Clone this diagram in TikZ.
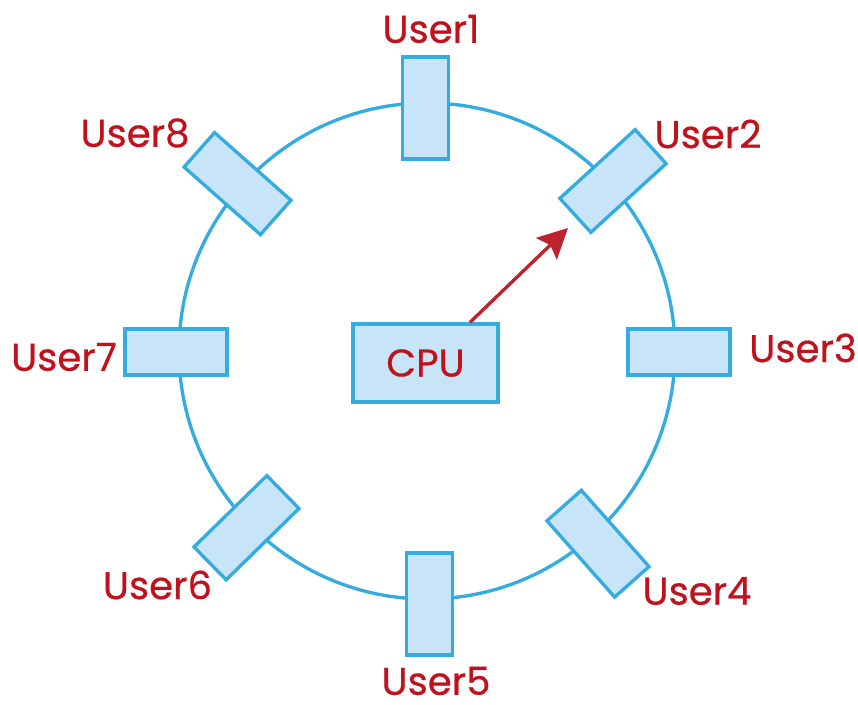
\documentclass[tikz,border=0pt]{standalone}
\usepackage{fontspec}
\setmainfont{Poppins}
\newfontfamily\usrfont{Poppins}[FakeBold=0.6]
\usetikzlibrary{arrows.meta}
\definecolor{ringblue}{RGB}{52,172,224}
\definecolor{slotfill}{RGB}{200,228,248}
\definecolor{userred}{RGB}{192,18,28}
\definecolor{arrowred}{RGB}{190,34,44}

\begin{document}
\begin{tikzpicture}[x=0.02cm,y=0.02cm,
    slot/.style={draw=ringblue, fill=slotfill, line width=1.9pt,
      minimum width=2.04cm, minimum height=0.92cm, inner sep=0pt},
    usr/.style={text=userred, font=\usrfont\fontsize{22}{26}\selectfont, inner sep=0pt}]
    \useasboundingbox (-427,-353) rectangle (431,351);
    \coordinate (O) at (0,0);
    \draw[ringblue, line width=1.9pt] (O) circle (248);
    % user slots on the ring
    \node[slot, rotate=90]    (s1) at (-1.5,243) {};
    \node[slot, rotate=42.4]  (s2) at (186,170) {};
    \node[slot, rotate=0]     (s3) at (252,-1) {};
    \node[slot, rotate=-48.4] (s4) at (171,-192.7) {};
    \node[slot, rotate=-90]   (s5) at (2.3,-253) {};
    \node[slot, rotate=224.4] (s6) at (-180.5,-176.7) {};
    \node[slot, rotate=180]   (s7) at (-251,-1) {};
    \node[slot, rotate=138.5] (s8) at (-189.5,167.4) {};
    % labels
    \node[usr] (u1) at (4,322) {User1};
    \node[usr] (u2) at (281,217) {User2};
    \node[usr] (u3) at (376,3) {User3};
    \node[usr] (u4) at (270,-240) {User4};
    \node[usr] (u5) at (9,-330) {User5};
    \node[usr] (u6) at (-269.5,-234) {User6};
    \node[usr] (u7) at (-363,-6) {User7};
    \node[usr] (u8) at (-292,218) {User8};
    % cpu
    \node[slot, text=userred, font=\usrfont\fontsize{22}{26}\selectfont,
      minimum width=2.9cm, minimum height=1.56cm] (cpu) at (-1.5,-12) {CPU};
    \coordinate (tip) at (141,123);
    \draw[arrowred, line width=1.9pt, -{Stealth[length=17pt,width=17pt,inset=3pt]}]
      ([xshift=0.89cm]cpu.north) -- (tip);
\end{tikzpicture}
\end{document}
